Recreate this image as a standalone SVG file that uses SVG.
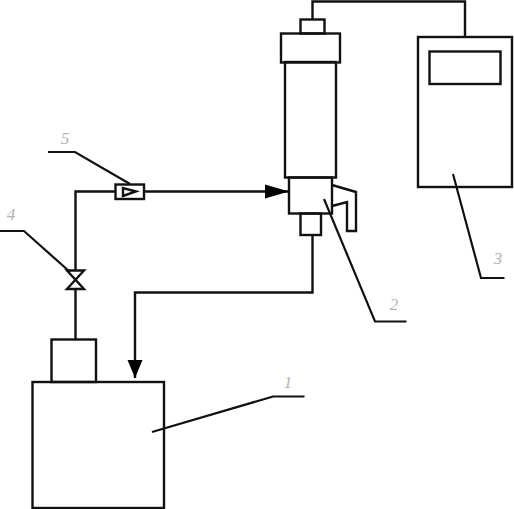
<svg xmlns="http://www.w3.org/2000/svg" width="514" height="509" viewBox="0 0 514 509">
<style>
.s{fill:none;stroke:#111;stroke-width:2.400;stroke-linejoin:miter}
.thin{fill:none;stroke:#111;stroke-width:2.200}
.l{font-family:"Liberation Serif",serif;font-style:italic;font-size:17px;fill:#b4b4b4;text-anchor:middle}
</style>
<defs>
<marker id="ah" markerUnits="userSpaceOnUse" markerWidth="24" markerHeight="16" refX="24" refY="8" orient="auto"><path d="M0 1L24 8L0 15Z" fill="#000"/></marker>
<marker id="ad" markerUnits="userSpaceOnUse" markerWidth="18" markerHeight="16" refX="18" refY="8" orient="auto"><path d="M0 0.500L18 8L0 15.500Z" fill="#000"/></marker>
</defs>
<rect width="514" height="509" fill="#fff"/>
<g id="connectors">
<path class="s" d="M312.500 19.500V1.500H465V37"/>
<path class="s" d="M145 191.500H289" marker-end="url(#ah)"/>
<path class="s" d="M312.500 235V292.500H135V378" marker-end="url(#ad)"/>
<path class="s" d="M115 191.500H75.500V271"/>
<path class="s" d="M75.500 289V339"/>
</g>
<g id="node-1">
<rect class="s" x="32.500" y="382" width="131.500" height="126"/>
<rect class="s" x="51.500" y="339.500" width="44.500" height="42.500"/>
<path class="thin" d="M152 432L273 396.500H304.500"/>
<text class="l" x="288" y="388">1</text>
</g>
<g id="node-2">
<rect class="s" x="285" y="62" width="51" height="115.500"/>
<rect class="s" x="300.500" y="19.500" width="24" height="14"/>
<rect class="s" x="281" y="33.500" width="59" height="29"/>
<rect class="s" x="289" y="177.500" width="43" height="36"/>
<rect class="s" x="300.500" y="213.500" width="20.500" height="21.500"/>
<path class="s" d="M332 185L356 192V231H347V202L332 206"/>
<path class="thin" d="M324 199L375 321.500H406.500"/>
<text class="l" x="394" y="310">2</text>
</g>
<g id="node-3">
<rect class="s" x="418" y="37" width="94" height="150"/>
<rect class="s" x="429.500" y="51.500" width="71" height="32.500"/>
<path class="thin" d="M453 174L481 278H504.500"/>
<text class="l" x="498" y="264">3</text>
</g>
<g id="node-4">
<path class="s" d="M67 270.500H84L67 289H84Z"/>
<path class="thin" d="M0 231H24L70 272"/>
<text class="l" x="11" y="220">4</text>
</g>
<g id="node-5">
<rect class="s" x="115.500" y="184.500" width="28.500" height="14.500"/>
<path class="s" d="M123 188V196L136 191.500Z"/>
<path class="thin" d="M48 152H75L130 184"/>
<text class="l" x="65" y="144">5</text>
</g>
</svg>
